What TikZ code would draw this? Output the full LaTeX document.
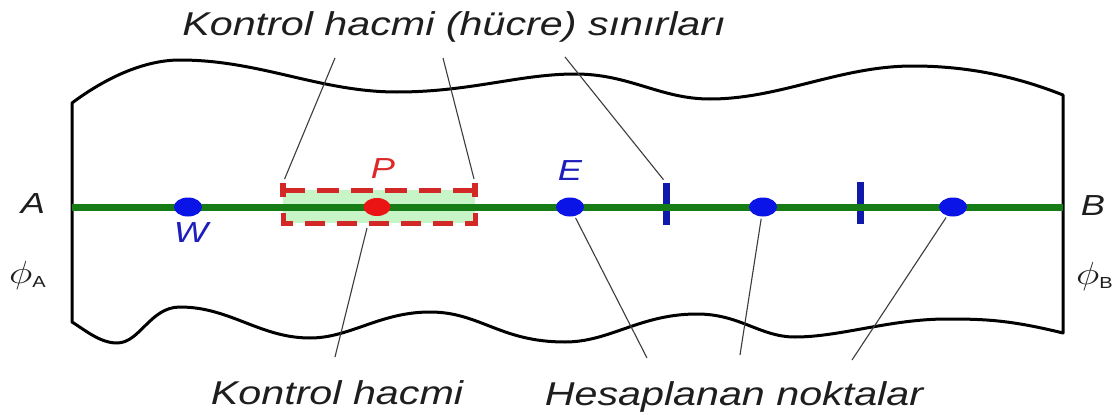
\RequirePackage{fix-cm}
\documentclass[tikz,border=0pt]{standalone}
\usepackage{fontspec}
\setmainfont{Liberation Sans}
\usepackage{graphicx}
\usetikzlibrary{shapes.geometric}
\definecolor{glinec}{RGB}{22,125,22}
\definecolor{dotblue}{RGB}{10,20,230}
\definecolor{dotred}{RGB}{235,20,20}
\definecolor{boxred}{RGB}{210,40,40}
\definecolor{boxfill}{RGB}{200,245,200}
\definecolor{plabel}{RGB}{220,40,40}
\definecolor{blabel}{RGB}{30,30,190}
\definecolor{tickblue}{RGB}{15,25,170}
\definecolor{leaderc}{RGB}{60,60,60}
\definecolor{txtc}{RGB}{30,30,30}
\newcommand{\sx}[1]{\scalebox{1.25}[1]{#1}}
\begin{document}
\begin{tikzpicture}[x=1pt,y=-1pt,
  outline/.style={line width=3pt, black, line join=round},
  gline/.style={line width=7pt, glinec},
  dotb/.style={ellipse, fill=dotblue, minimum width=28pt, minimum height=19pt, inner sep=0pt},
  dotr/.style={ellipse, fill=dotred, minimum width=27pt, minimum height=18pt, inner sep=0pt},
  tickbox/.style={rectangle, fill=tickblue, minimum width=7pt, minimum height=42pt, inner sep=0pt},
  endbar/.style={rectangle, fill=boxred, minimum width=6pt, minimum height=14pt, inner sep=0pt},
  cvfill/.style={rectangle, fill=boxfill, minimum width=192pt, minimum height=33pt, inner sep=0pt},
  cvdash/.style={line width=5pt, boxred},
  leader/.style={line width=1.1pt, leaderc},
  big/.style={font=\fontsize{33}{38}\selectfont\itshape, text=txtc, inner sep=0pt, anchor=base},
  lett/.style={font=\fontsize{29}{32}\selectfont\itshape, text=txtc, inner sep=0pt, anchor=base}]
\useasboundingbox (0,0) rectangle (1120,415);
\fill[white] (0,0) rectangle (1120,415);
% outline of the domain
\draw[outline] (72,103) .. controls (100,82) and (140,60) .. (180,60)
  .. controls (260,60) and (320,92) .. (397,92)
  .. controls (470,92) and (520,74) .. (575,74)
  .. controls (630,74) and (660,99) .. (710,99)
  .. controls (780,99) and (840,66) .. (913,66)
  .. controls (980,66) and (1030,82) .. (1063,95)
  -- (1063,333)
  .. controls (1010,320) and (985,319) .. (947,319)
  .. controls (890,319) and (840,337) .. (795,337)
  .. controls (760,337) and (740,314) .. (697,314)
  .. controls (640,314) and (610,342) .. (565,342)
  .. controls (500,342) and (480,312) .. (430,312)
  .. controls (380,312) and (350,338) .. (310,338)
  .. controls (260,338) and (230,307) .. (180,307)
  .. controls (150,307) and (140,343) .. (117,343)
  .. controls (100,343) and (85,330) .. (72,322)
  -- cycle;
% control volume fill
\node[cvfill] (cv) at (379,206.5) {};
% face ticks
\node[tickbox] (T1) at (666,204) {};
\node[tickbox] (T2) at (860,203) {};
% axis
\coordinate (Aend) at (72,207);
\coordinate (Bend) at (1063,207);
\draw[gline] (Aend) -- (Bend);
% control volume dashed border
\node[endbar] (bl) at (283,190) {};
\node[endbar] (br) at (475,190) {};
\draw[cvdash, dash pattern=on 22pt off 12pt] (bl.center) -- (br.center);
\draw[cvdash, dash pattern=on 20pt off 12pt, line join=miter] (283,213) -- (283,223) -- (475,223) -- (475,213);
% points
\node[dotb] (W) at (188,207) {};
\node[dotr] (P) at (377,207) {};
\node[dotb] (E) at (570,207) {};
\node[dotb] (N1) at (763,207) {};
\node[dotb] (N2) at (953,207) {};
% leader ends
\coordinate (u1) at (335,58);
\coordinate (u2) at (443,58);
\coordinate (u3) at (565,57);
\coordinate (cvb) at (367,228);
\coordinate (d0) at (335,357);
\coordinate (d1) at (647,358);
\coordinate (d2) at (740,355);
\coordinate (d3) at (852,360);
\draw[leader, shorten >=4pt] (u1) -- (bl.north);
\draw[leader, shorten >=4pt] (u2) -- (br.north);
\draw[leader, shorten >=4pt] (u3) -- (T1.north);
\draw[leader] (cvb) -- (d0);
\draw[leader, shorten <=2pt] (E) -- (d1);
\draw[leader, shorten <=2pt] (N1) -- (d2);
\draw[leader, shorten <=2pt] (N2) -- (d3);
% labels
\node[big] (t1) at (454,35) {\sx{Kontrol hacmi (hücre) sınırları}};
\node[big] (t2) at (337,404) {\sx{Kontrol hacmi}};
\node[big] (t3) at (734,405) {\sx{Hesaplanan noktalar}};
\node[lett] (lA) at (33,213) {\sx{A}};
\node[lett] (lB) at (1093,215) {\sx{B}};
\node[lett, text=plabel] (lP) at (383,178) {\sx{P}};
\node[lett, text=blabel] (lE) at (570,180) {\sx{E}};
\node[lett, text=blabel] (lW) at (191,242) {\sx{W}};
\node[anchor=base west, inner sep=0pt, text=txtc] (phiA) at (9,283) {\sx{\fontsize{32}{34}\selectfont$\phi$\raisebox{-4pt}{\fontsize{16}{18}\selectfont A}}};
\node[anchor=base west, inner sep=0pt, text=txtc] (phiB) at (1076,284) {\sx{\fontsize{32}{34}\selectfont$\phi$\raisebox{-4pt}{\fontsize{16}{18}\selectfont B}}};
\end{tikzpicture}
\end{document}
